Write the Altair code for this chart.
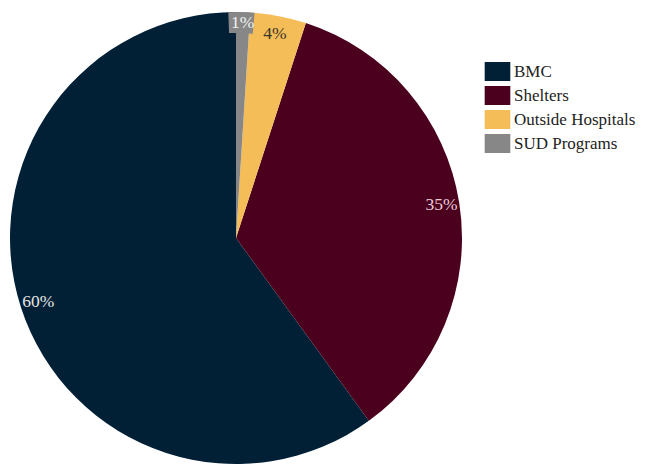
import altair as alt
import pandas as pd
import math

categories = ["BMC", "Shelters", "Outside Hospitals", "SUD Programs"]
values = [60, 35, 4, 1]
labels = ["60%", "35%", "4%", "1%"]
slice_order = [4, 3, 2, 1]
colors = ["#012036", "#4b001e", "#f5bd58", "#878787"]
label_colors = ["#e6e6e6", "#e8cdd6", "#3a3528", "#f2f2f2"]

SERIF = "Liberation Serif"
CX, CY = 228, 230

df = pd.DataFrame({
    "category": categories,
    "value": values,
    "label": labels,
    "ord": slice_order,
    "tcolor": label_colors,
})

base = alt.Chart(df).encode(
    theta=alt.Theta("value:Q", stack=True),
    order=alt.Order("ord:Q"),
)

pie = base.mark_arc(outerRadius=226, stroke=None, x=CX, y=CY).encode(
    color=alt.Color(
        "category:N",
        scale=alt.Scale(domain=categories, range=colors),
        sort=categories,
        legend=alt.Legend(
            title=None,
            orient="none",
            legendX=480,
            legendY=54,
            symbolType="M-1.35,-1H1.35V1H-1.35Z",
            symbolSize=361,
            symbolStrokeWidth=0,
            symbolOpacity=1,
            labelFont=SERIF,
            labelFontSize=17,
            labelColor="#222222",
            labelOffset=7,
            labelLimit=300,
            rowPadding=5,
            padding=0,
        ),
    )
)

# gray label box behind the "1%" label
TWO_PI = 2 * math.pi
box = alt.Chart(df).transform_filter(alt.datum.category == "SUD Programs").mark_arc(
    color="#878787", stroke=None, x=CX, y=CY
).encode(
    theta=alt.value(TWO_PI - 0.034),
    theta2=alt.value(TWO_PI + 0.082),
    radius=alt.value(226),
    radius2=alt.value(205),
)

text = base.transform_calculate(
    t="datum.category == 'SUD Programs' ? '' : datum.label"
).mark_text(radius=208, font=SERIF, fontSize=17.5, x=CX, y=CY).encode(
    text="t:N",
    color=alt.Color("tcolor:N", scale=None),
)

text_small = base.transform_calculate(
    t="datum.category == 'SUD Programs' ? datum.label : ''"
).mark_text(radius=215, font=SERIF, fontSize=17.5, x=CX, y=CY).encode(
    text="t:N",
    color=alt.Color("tcolor:N", scale=None),
)

chart = (
    alt.layer(pie, box, text, text_small)
    .properties(width=629, height=457, padding=0, autosize=alt.AutoSizeParams(type="none"))
    .configure_view(stroke=None)
)

chart.save("out.html", embed_options={"renderer": "svg", "actions": False})
